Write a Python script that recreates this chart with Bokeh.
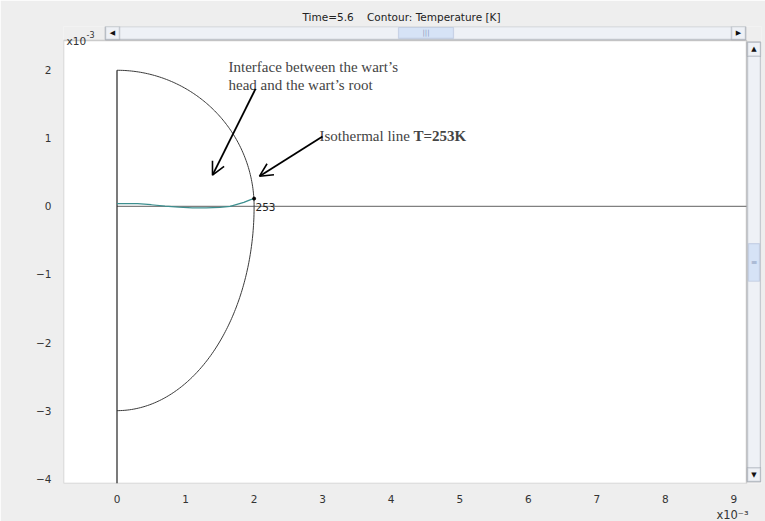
import numpy as np
from bokeh.plotting import figure
from bokeh.models import Range1d, Label, Arrow, OpenHead, BoxAnnotation, FixedTicker, Title
from bokeh.core.properties import value
from bokeh.embed import file_html
from bokeh.resources import INLINE

# ---- data (units: x10^-3 m) ----
x_ticks = [0, 1, 2, 3, 4, 5, 6, 7, 8, 9]
y_ticks = [-4, -3, -2, -1, 0, 1, 2]

head_radius = 2.0        # wart's head (upper quarter circle)
root_half_width = 2.0    # wart's root (lower quarter ellipse)
root_depth = 3.0

iso_x = [0.0, 0.3, 0.5, 0.7, 0.9, 1.1, 1.3, 1.5, 1.65, 1.75, 1.85, 1.95, 2.0]
iso_y = [0.04, 0.04, 0.025, 0.005, -0.01, -0.02, -0.02, -0.015, 0.0, 0.03, 0.06, 0.10, 0.115]
iso_value = "253"

title_text = "Time=5.6\u00a0\u00a0\u00a0\u00a0Contour: Temperature [K]"
scale_base = "x10"
scale_exp = "-3"
scale_text = "x10\u207b\u00b3"
note1_lines = ["Interface between the wart\u2019s", "head and the wart\u2019s root"]
note2_text = "Isothermal line "
note2_bold = "T=253K"

# ---- layout (pixels of the 765x521 page) ----
W, H = 765, 521
F_L, F_R, F_T, F_B = 63, 761, 26, 487      # frame (incl. scrollbars)
PX0, PXU = 116.5, 68.55                    # x=0 position, px per unit
PY0, PYU = 207.5, 68.67                    # y=0 position, px per unit


def X(px):
    return (px - PX0) / PXU


def Y(py):
    return (PY0 - py) / PYU


x_min, x_max = X(F_L), X(F_R)
y_min, y_max = Y(F_B), Y(F_T)
area_right, area_top = X(746), Y(40)

t = np.linspace(0, np.pi / 2, 120)
head_x = head_radius * np.cos(t)
head_y = head_radius * np.sin(t)
root_x = root_half_width * np.cos(t)
root_y = -root_depth * np.sin(t)
sym_axis_x = [0.0, 0.0]
sym_axis_y = [y_min, head_radius]
base_x = [0.0, area_right]
base_y = [0.0, 0.0]

p = figure(width=W, height=H, output_backend="svg", toolbar_location=None,
           x_range=Range1d(x_min, x_max), y_range=Range1d(y_min, y_max),
           min_border_left=F_L, min_border_right=W - F_R, min_border_top=F_T,
           min_border_bottom=H - F_B)
p.background_fill_color = "#eeeeee"
p.border_fill_color = "#eeeeee"
p.outline_line_color = None
p.grid.visible = False

p.title.text = title_text
p.title.text_font = "DejaVu Sans"
p.title.text_font_size = "10.5px"
p.title.text_font_style = "normal"
p.title.text_color = "#222222"
p.title.align = "left"
p.title.offset = 302 - F_L
p.title.standoff = 7

for ax in (p.xaxis, p.yaxis):
    ax.axis_line_color = None
    ax.major_tick_line_color = None
    ax.minor_tick_line_color = None
    ax.major_label_text_font = "DejaVu Sans"
    ax.major_label_text_font_size = "10.5px"
    ax.major_label_text_color = "#333333"
p.xaxis.ticker = FixedTicker(ticks=x_ticks)
p.yaxis.ticker = FixedTicker(ticks=y_ticks)
p.xaxis.major_label_standoff = 5
p.yaxis.major_label_standoff = 6

p.add_layout(Title(text=scale_text, align="right", offset=13,
                   text_font="DejaVu Sans", text_font_size="11.5px",
                   text_font_style="normal", text_color="#333333",
                   standoff=0), "below")

# white plot area
p.add_layout(BoxAnnotation(left=x_min, right=area_right, bottom=y_min, top=area_top,
                           fill_color="white", fill_alpha=1.0,
                           line_color="#666666", line_width=1.5, level="underlay"))


# ---- scrollbars (decoration) ----
def pbox(l, r, t_, b, fill, line="#6b7380", lw=1.5):
    p.add_layout(BoxAnnotation(left=X(l), right=X(r), top=Y(t_), bottom=Y(b),
                               fill_color=fill, fill_alpha=1.0,
                               line_color=line, line_width=lw, level="underlay"))


def plabel(x, y, text, size="7px", color="#111111"):
    p.add_layout(Label(x=X(x), y=Y(y), text=text, text_font="DejaVu Sans",
                       text_font_size=size, text_align="center",
                       text_baseline="middle", text_color=color))


pbox(105, 745, 26, 39, "#eef1f6")
pbox(105, 119, 26, 39, "#eef1f6")
pbox(731, 745, 26, 39, "#eef1f6")
pbox(398, 453, 27, 38, "#d6e3f6", line="#8a9cc0", lw=1.2)
plabel(112, 32.5, "\u25c0")
plabel(738, 32.5, "\u25b6")
plabel(425.5, 32.5, "|||", size="7px", color="#8a9cc0")

pbox(747, 760, 42, 485, "#eef1f6")
pbox(747, 760, 42, 56, "#eef1f6")
pbox(747, 760, 471, 485, "#eef1f6")
pbox(748, 759, 245, 283, "#d6e3f6", line="#8a9cc0", lw=1.2)
plabel(753.5, 49, "\u25b2")
plabel(753.5, 478, "\u25bc")
plabel(753.5, 264, "\u2261", size="8px", color="#8a9cc0")

# ---- chart content ----
p.line(base_x, base_y, line_color="#808080", line_width=1.2)
p.line(sym_axis_x, sym_axis_y, line_color="#222222", line_width=1.2)
p.line(head_x, head_y, line_color="#3a3a3a", line_width=1)
p.line(root_x, root_y, line_color="#3a3a3a", line_width=1)
p.line(iso_x, iso_y, line_color="#3d8f8f", line_width=1.2)
p.scatter([iso_x[-1]], [iso_y[-1]], size=3, color="black")
p.add_layout(Label(x=iso_x[-1] + 0.02, y=iso_y[-1] - 0.07, text=iso_value,
                   text_font="DejaVu Sans", text_font_size="10.5px",
                   text_color="#222222", text_baseline="top"))

serif = "Liberation Serif"
p.add_layout(Label(x=X(228), y=Y(67), text=note1_lines[0], text_font=serif,
                   text_font_size="15px", text_baseline="alphabetic"))
p.add_layout(Label(x=X(228), y=Y(85), text=note1_lines[1], text_font=serif,
                   text_font_size="15px", text_baseline="alphabetic"))
p.add_layout(Label(x=X(319), y=Y(136), text=note2_text, text_font=serif,
                   text_font_size="15px", text_baseline="alphabetic"))
p.add_layout(Label(x=X(413), y=Y(136), text=note2_bold, text_font=serif,
                   text_font_size="15px", text_font_style="bold",
                   text_baseline="alphabetic"))

p.add_layout(Arrow(end=OpenHead(size=13, line_width=1.6), line_width=1.8,
                   x_start=X(255), y_start=Y(89), x_end=X(212), y_end=Y(176)))
p.add_layout(Arrow(end=OpenHead(size=13, line_width=1.6), line_width=1.8,
                   x_start=X(322), y_start=Y(137), x_end=X(259), y_end=Y(177)))

# scale label top-left
p.add_layout(Label(x=X(66), y=Y(41), text=scale_base, text_font="DejaVu Sans",
                   text_font_size="10.5px", text_color="#333333",
                   text_baseline="alphabetic"))
p.add_layout(Label(x=X(86), y=Y(34), text=scale_exp, text_font="DejaVu Sans",
                   text_font_size="8px", text_color="#333333",
                   text_baseline="alphabetic"))

html = file_html(p, INLINE)
open("out.html", "w").write(html)
